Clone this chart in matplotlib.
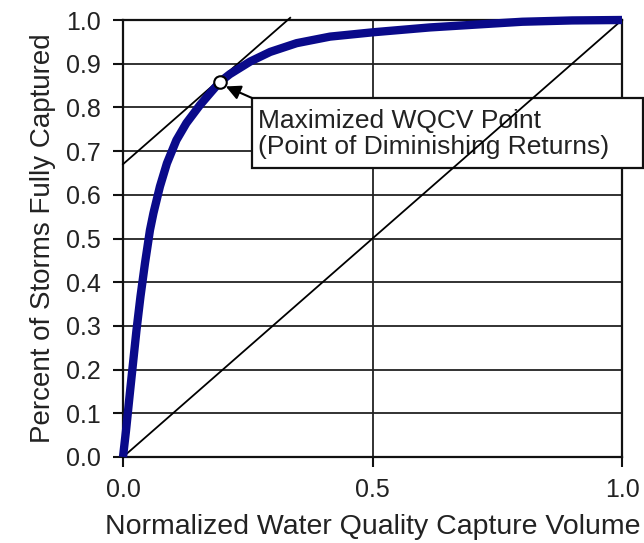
import matplotlib
matplotlib.use("Agg")
import matplotlib.pyplot as plt
from matplotlib.patches import Rectangle

# ---- data ----
curve_x = [0.0, 0.006, 0.013, 0.020, 0.027, 0.035, 0.044, 0.054, 0.061, 0.074,
           0.088, 0.107, 0.127, 0.154, 0.175, 0.194, 0.214, 0.255, 0.295, 0.348,
           0.415, 0.502, 0.615, 0.729, 0.800, 0.900, 1.0]
curve_y = [0.0, 0.060, 0.138, 0.214, 0.290, 0.367, 0.443, 0.519, 0.558, 0.619,
           0.672, 0.725, 0.764, 0.805, 0.833, 0.858, 0.876, 0.905, 0.927, 0.947,
           0.962, 0.972, 0.983, 0.991, 0.996, 0.999, 1.0]
diag_x = [0.0, 1.0]
diag_y = [0.0, 1.0]
tangent_x = [0.0, 0.335]
tangent_y = [0.67, 1.005]
point_x = [0.194]
point_y = [0.859]
xticks = [0.0, 0.5, 1.0]
xticklabels = ["0.0", "0.5", "1.0"]
yticks = [i / 10 for i in range(11)]
yticklabels = [f"{v:.1f}" for v in yticks]
annot_text = "Maximized WQCV Point\n(Point of Diminishing Returns)"
xlabel = "Normalized Water Quality Capture Volume"
ylabel = "Percent of Storms Fully Captured"

plt.rcParams['font.family'] = ['Liberation Sans', 'DejaVu Sans']

fig = plt.figure(figsize=(6.44, 5.43), dpi=100)
ax = fig.add_axes([123/644, 1-457/543, (622-123)/644, (457-20)/543])
ax.set_xlim(0, 1)
ax.set_ylim(0, 1)

# grid
for yv in yticks[1:-1]:
    ax.axhline(yv, color='#222222', lw=1.3, zorder=0.5)
ax.axvline(0.5, color='#222222', lw=1.3, zorder=0.5)

for s in ax.spines.values():
    s.set_linewidth(1.6)
    s.set_color('#111111')
    s.set_zorder(2.4)

ax.set_xticks(xticks)
ax.set_xticklabels(xticklabels)
ax.set_yticks(yticks)
ax.set_yticklabels(yticklabels)
ax.tick_params(axis='both', direction='out', length=7, width=1.5, labelsize=18,
               colors='#111111', labelcolor='#222222')
ax.tick_params(axis='y', pad=9)
ax.tick_params(axis='x', pad=8)

ax.set_xlabel(xlabel, fontsize=20.5, color='#222222', labelpad=9)
ax.set_ylabel(ylabel, fontsize=20, color='#222222', labelpad=7)

# annotation box
box = Rectangle((0.2585, 0.661), 1.042 - 0.2585, 0.8215 - 0.661,
                facecolor='white', edgecolor='#111111', lw=1.6,
                transform=ax.transData, clip_on=False, zorder=2.6)
ax.add_patch(box)
ax.text(0.270, 0.739, annot_text, fontsize=19, color='#222222',
        ha='left', va='center', linespacing=1.1, zorder=2.7)

# lines
ax.plot(diag_x, diag_y, color='black', lw=1.3, zorder=3, clip_on=False)
ax.plot(tangent_x, tangent_y, color='black', lw=1.3, zorder=3, clip_on=False)
ax.plot(curve_x, curve_y, color='#0a0a8a', lw=6, zorder=3.5,
        solid_capstyle='butt', solid_joinstyle='round', clip_on=False)
ax.plot(point_x, point_y, 'o', ms=9, mfc='white', mec='black', mew=1.5, zorder=5)

ax.annotate("", xy=(0.206, 0.848), xytext=(0.2585, 0.8215),
            arrowprops=dict(arrowstyle='-|>', color='black', lw=1.5,
                            mutation_scale=22, shrinkA=0, shrinkB=0),
            zorder=4.5)

fig.savefig("out.png", dpi=100)
